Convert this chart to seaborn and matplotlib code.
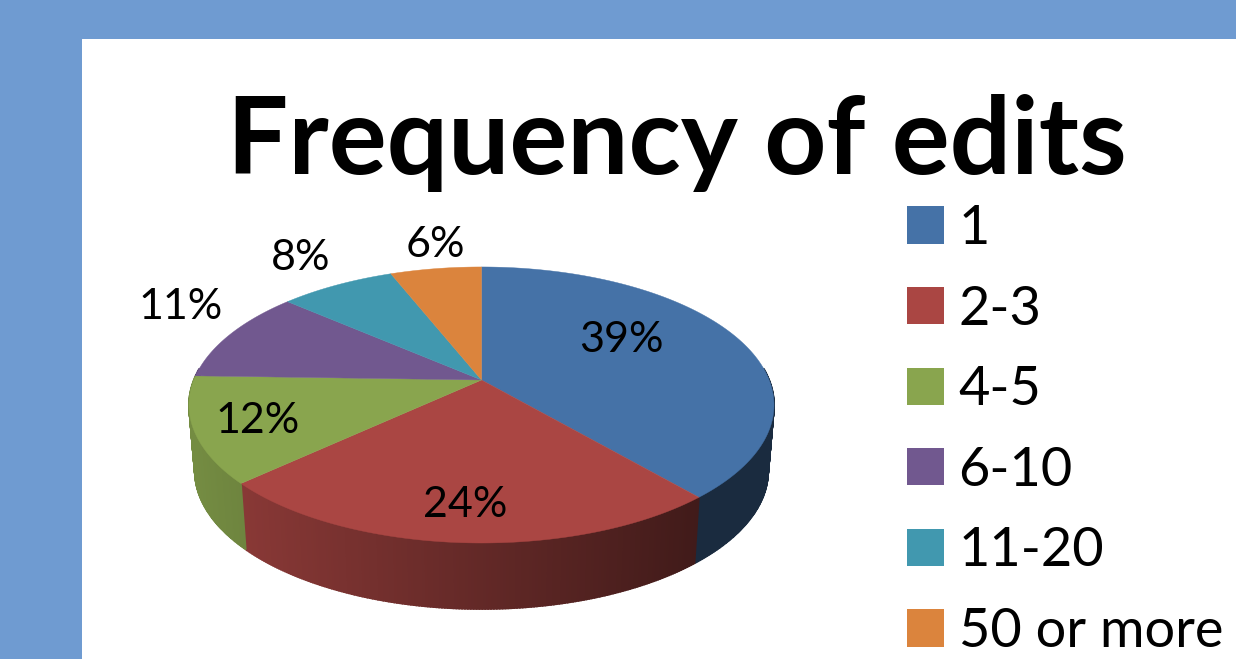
import numpy as np
import matplotlib
matplotlib.use("Agg")
import matplotlib.pyplot as plt
from matplotlib.patches import Patch
import seaborn as sns

# chart data
categories = ["1", "2-3", "4-5", "6-10", "11-20", "50 or more"]
shares = [38.7, 24.4, 12.4, 10.9, 7.6, 6.0]
slice_colors = ["#4572A7", "#AA4643", "#89A54E", "#71588F", "#4198AF", "#DB843D"]

# where the percent labels sit, in picture pixels
label_x = [621, 465, 258, 181, 301, 435]
label_y = [340, 505, 421, 307, 258, 245]

sns.set_theme(style="white")
plt.rcParams["font.family"] = ["Lato", "DejaVu Sans"]
palette = sns.color_palette(slice_colors)

# pie geometry, a tilted disc with perspective
CX, CY = 481.5, 380
RX, RY, PERSP = 287.7, 133.5, 0.181
DEPTH = 66


def project(theta):
    u, v = np.sin(theta), np.cos(theta)
    w = 1 + PERSP * v
    return CX + RX * u / w, CY - RY * v / w


fig = plt.figure(figsize=(12.36, 6.59), dpi=100, facecolor="#6F9BD1")
ax = fig.add_axes([82 / 1236, 0, (1236 - 82) / 1236, (659 - 39) / 659])
ax.set_facecolor("white")
ax.set_xlim(82, 1236)
ax.set_ylim(659, 39)
ax.set_axis_off()
ax.add_patch(plt.Rectangle((82, 39), 1154, 620, color="white", zorder=0))

edges = np.cumsum([0] + shares) / sum(shares) * 2 * np.pi

# side wall first, shaded left to right
for i, color in enumerate(palette):
    start = max(edges[i], np.radians(85))
    stop = min(edges[i + 1], np.radians(275))
    if stop <= start:
        continue
    steps = np.linspace(start, stop, max(int((stop - start) * 120), 2))
    for a, b in zip(steps[:-1], steps[1:]):
        xa, ya = project(a)
        xb, yb = project(b)
        xa2 = CX + (xa - CX) * 0.98
        xb2 = CX + (xb - CX) * 0.98
        shade = np.clip(0.85 - 0.47 * ((xa + xb) / 2 - 190) / 510, 0.38, 0.85)
        ax.fill([xa, xb, xb2, xa2], [ya, yb, yb + DEPTH, ya + DEPTH],
                color=np.array(color) * shade, lw=1.2, zorder=1)

# top of the pie
for i, color in enumerate(palette):
    arc = np.linspace(edges[i], edges[i + 1], 120)
    xs, ys = project(arc)
    ax.fill(np.r_[CX, xs], np.r_[CY, ys], color=color, lw=0.3, zorder=2)

for x, y, share in zip(label_x, label_y, shares):
    ax.text(x, y, f"{share:.0f}%", fontsize=31, color="black", ha="center", va="center", zorder=3)

ax.text(677, 143, "Frequency of edits", fontsize=78, fontweight="bold", color="black",
        ha="center", va="center")

handles = [Patch(facecolor=c, edgecolor="none", label=n) for c, n in zip(palette, categories)]
ax.legend(handles=handles, loc="upper left", bbox_to_anchor=(907, 204), bbox_transform=ax.transData,
          frameon=False, fontsize=39, handlelength=0.683, handleheight=0.683, handletextpad=0.27,
          labelspacing=0.583, borderpad=0, borderaxespad=0, labelcolor="black")

fig.savefig("out.png", dpi=100, facecolor=fig.get_facecolor())
